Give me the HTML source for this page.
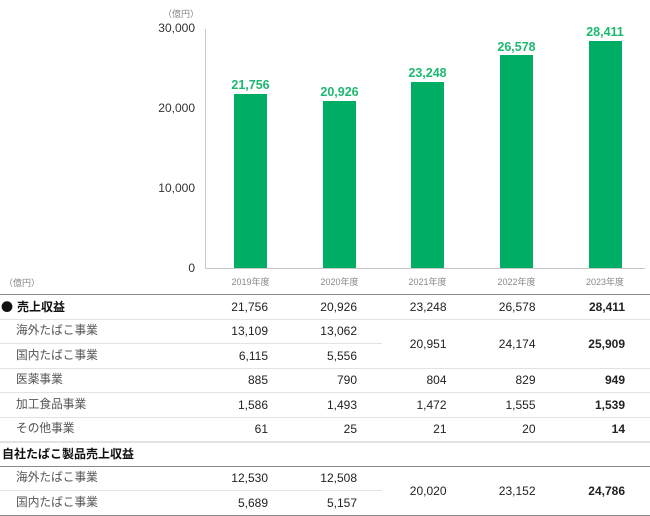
<!DOCTYPE html>
<html><head><meta charset="utf-8"><style>
*{margin:0;padding:0;box-sizing:border-box}
body{width:650px;height:516px;background:#fff;position:relative;overflow:hidden;font-family:"Liberation Sans","Noto Sans CJK JP",sans-serif;color:#222}
.a{position:absolute;white-space:nowrap}
.t{height:20px;line-height:20px;font-size:12px}
.r{text-align:right;width:80px}
.c{text-align:center;width:80px}
.bar{position:absolute;background:#00ad65;width:33px}
.vl{position:absolute;font-size:12.5px;font-weight:bold;color:#1db86f;text-align:center;width:80px;height:16px;line-height:16px}
.yr{position:absolute;font-size:9px;color:#888;text-align:center;width:80px;height:12px;line-height:12px}
.yt{position:absolute;font-size:12px;color:#333;text-align:right;width:60px;left:135px;height:16px;line-height:16px}
.hl{position:absolute;left:0;height:1px;background:#e2e2e2}
.dk{background:#8a8a8a}
.lab{color:#555;font-size:11.7px}
b{font-weight:bold}
</style></head><body>
<!-- chart -->
<div class="a" style="left:163px;top:8px;font-size:9px;color:#888;line-height:12px">（億円）</div>
<div class="yt" style="top:20px">30,000</div>
<div class="yt" style="top:100px">20,000</div>
<div class="yt" style="top:180px">10,000</div>
<div class="yt" style="top:260px">0</div>
<div style="position:absolute;left:205px;top:29px;width:1px;height:240px;background:#c8c8c8"></div>
<div style="position:absolute;left:205px;top:268px;width:440px;height:1px;background:#c8c8c8"></div>

<div class="bar" style="left:234px;top:94px;height:174px"></div>
<div class="bar" style="left:323px;top:100.6px;height:167.4px"></div>
<div class="bar" style="left:411px;top:82px;height:186px"></div>
<div class="bar" style="left:500px;top:55.4px;height:212.6px"></div>
<div class="bar" style="left:588.5px;top:40.7px;height:227.3px"></div>

<div class="vl" style="left:210.5px;top:77px">21,756</div>
<div class="vl" style="left:299.5px;top:84px">20,926</div>
<div class="vl" style="left:387.5px;top:65px">23,248</div>
<div class="vl" style="left:476.5px;top:38.5px">26,578</div>
<div class="vl" style="left:565px;top:24px">28,411</div>

<div class="yr" style="left:210.5px;top:275.5px">2019年度</div>
<div class="yr" style="left:299.5px;top:275.5px">2020年度</div>
<div class="yr" style="left:387.5px;top:275.5px">2021年度</div>
<div class="yr" style="left:476.5px;top:275.5px">2022年度</div>
<div class="yr" style="left:565px;top:275.5px">2023年度</div>

<div class="a" style="left:4px;top:277px;font-size:9px;color:#888;line-height:12px">（億円）</div>

<!-- lines -->
<div class="hl dk" style="top:293.5px;width:650px;height:1.5px"></div>
<div class="hl" style="top:319px;width:650px"></div>
<div class="hl" style="top:343px;width:382px"></div>
<div class="hl" style="top:367.5px;width:650px"></div>
<div class="hl" style="top:392px;width:650px"></div>
<div class="hl" style="top:416.5px;width:650px"></div>
<div class="hl" style="top:441px;width:650px;height:2px"></div>
<div class="hl dk" style="top:465.5px;width:650px;height:1.5px"></div>
<div class="hl" style="top:490px;width:382px"></div>
<div class="hl dk" style="top:514.5px;width:650px;height:1.5px"></div>

<!-- labels -->
<div class="a t" style="left:1px;top:296.5px;font-weight:bold;color:#111"><span style="font-size:12px;font-family:'Noto Sans CJK JP',sans-serif;margin-right:4px">●</span>売上収益</div>
<div class="a t lab" style="left:16px;top:321px">海外たばこ事業</div>
<div class="a t lab" style="left:16px;top:345.5px">国内たばこ事業</div>
<div class="a t lab" style="left:16px;top:370px">医薬事業</div>
<div class="a t lab" style="left:16px;top:394.5px">加工食品事業</div>
<div class="a t lab" style="left:16px;top:419px">その他事業</div>
<div class="a t" style="left:2px;top:443.5px;font-weight:bold;color:#111">自社たばこ製品売上収益</div>
<div class="a t lab" style="left:16px;top:468px">海外たばこ事業</div>
<div class="a t lab" style="left:16px;top:492.5px">国内たばこ事業</div>

<!-- row 売上収益 -->
<div class="a t r" style="left:188px;top:296.5px">21,756</div>
<div class="a t r" style="left:277px;top:296.5px">20,926</div>
<div class="a t r" style="left:366.5px;top:296.5px">23,248</div>
<div class="a t r" style="left:455.5px;top:296.5px">26,578</div>
<div class="a t r" style="left:545px;top:296.5px"><b>28,411</b></div>
<!-- 海外 -->
<div class="a t r" style="left:188px;top:321px">13,109</div>
<div class="a t r" style="left:277px;top:321px">13,062</div>
<!-- 国内 -->
<div class="a t r" style="left:188px;top:345.5px">6,115</div>
<div class="a t r" style="left:277px;top:345.5px">5,556</div>
<!-- merged -->
<div class="a t r" style="left:366.5px;top:333.5px">20,951</div>
<div class="a t r" style="left:455.5px;top:333.5px">24,174</div>
<div class="a t r" style="left:545px;top:333.5px"><b>25,909</b></div>
<!-- 医薬 -->
<div class="a t r" style="left:188px;top:370px">885</div>
<div class="a t r" style="left:277px;top:370px">790</div>
<div class="a t r" style="left:366.5px;top:370px">804</div>
<div class="a t r" style="left:455.5px;top:370px">829</div>
<div class="a t r" style="left:545px;top:370px"><b>949</b></div>
<!-- 加工 -->
<div class="a t r" style="left:188px;top:394.5px">1,586</div>
<div class="a t r" style="left:277px;top:394.5px">1,493</div>
<div class="a t r" style="left:366.5px;top:394.5px">1,472</div>
<div class="a t r" style="left:455.5px;top:394.5px">1,555</div>
<div class="a t r" style="left:545px;top:394.5px"><b>1,539</b></div>
<!-- その他 -->
<div class="a t r" style="left:188px;top:419px">61</div>
<div class="a t r" style="left:277px;top:419px">25</div>
<div class="a t r" style="left:366.5px;top:419px">21</div>
<div class="a t r" style="left:455.5px;top:419px">20</div>
<div class="a t r" style="left:545px;top:419px"><b>14</b></div>
<!-- 自社 海外/国内 -->
<div class="a t r" style="left:188px;top:468px">12,530</div>
<div class="a t r" style="left:277px;top:468px">12,508</div>
<div class="a t r" style="left:188px;top:492.5px">5,689</div>
<div class="a t r" style="left:277px;top:492.5px">5,157</div>
<div class="a t r" style="left:366.5px;top:480.5px">20,020</div>
<div class="a t r" style="left:455.5px;top:480.5px">23,152</div>
<div class="a t r" style="left:545px;top:480.5px"><b>24,786</b></div>
</body></html>
